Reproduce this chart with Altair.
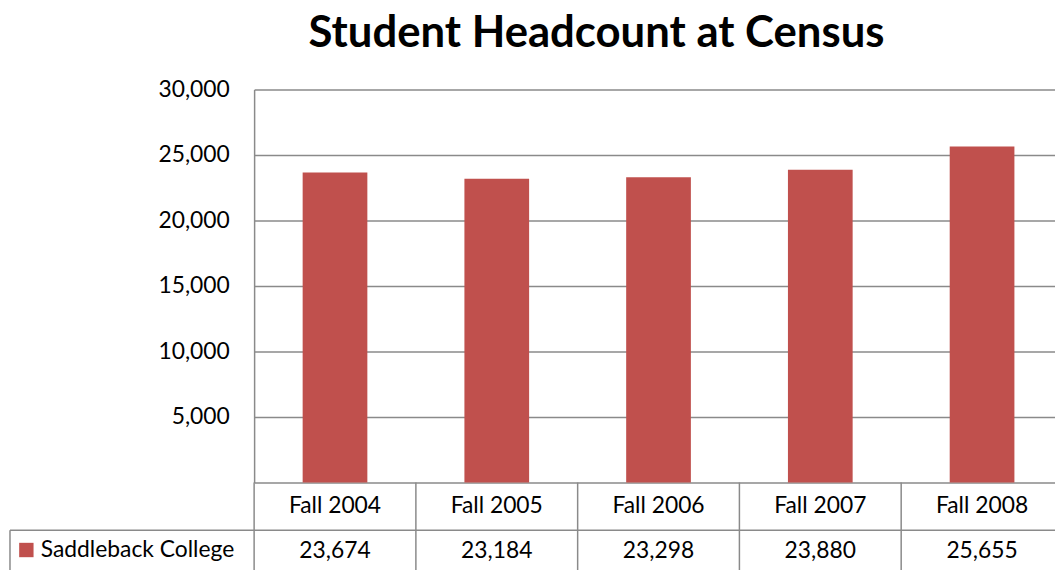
import altair as alt
import pandas as pd

# ---- data ----
categories = ["Fall 2004", "Fall 2005", "Fall 2006", "Fall 2007", "Fall 2008"]
headcount = [23674, 23184, 23298, 23880, 25655]
series_name = "Saddleback College"
y_ticks = [0, 5000, 10000, 15000, 20000, 25000, 30000]
title_text = "Student Headcount at Census"

df = pd.DataFrame({"term": categories, "headcount": headcount})
df["label"] = [f"{v:,}" for v in headcount]

FONT = "Lato"
GRID = "#8a8a8a"
BAR = "#C0504D"
VIEW_W = 807
FULL_W = 815
H = 396
FS = 23

xs = alt.Scale(domain=categories, range=[0, FULL_W], paddingInner=0.6, paddingOuter=0.3)
rs = alt.Scale(domain=categories, range=[0, FULL_W], paddingInner=0, paddingOuter=0)

bars = alt.Chart(df).mark_bar(color=BAR).encode(
    x=alt.X("term:N", scale=xs, axis=None, sort=categories),
    y=alt.Y(
        "headcount:Q",
        scale=alt.Scale(domain=[0, 30000], nice=False),
        axis=alt.Axis(
            values=y_ticks,
            labelExpr="datum.value == 0 ? '' : format(datum.value, ',')",
            grid=True, gridColor=GRID, gridWidth=1.5,
            domain=True, domainColor=GRID, domainWidth=1.5,
            ticks=False, labelPadding=25, labelFontSize=FS, labelFont=FONT,
            labelColor="black", title=None,
        ),
    ),
)

header = alt.Chart(df).mark_text(font=FONT, fontSize=FS, baseline="middle", color="black").encode(
    x=alt.X("term:N", scale=xs, axis=None, sort=categories),
    y=alt.value(420),
    text="term:N",
)

vals = alt.Chart(df).mark_text(font=FONT, fontSize=FS, baseline="middle", color="black").encode(
    x=alt.X("term:N", scale=xs, axis=None, sort=categories),
    y=alt.value(465),
    text="label:N",
)

vrules = alt.Chart(df).mark_rule(color=GRID, strokeWidth=1.5).encode(
    x=alt.X("term:N", scale=rs, axis=None, bandPosition=0, sort=categories),
    y=alt.value(H),
    y2=alt.value(500),
)

one = pd.DataFrame({"s": [series_name], "t": [title_text]})

hrule = alt.Chart(one).mark_rule(color=GRID, strokeWidth=1.5).encode(
    x=alt.value(-246), x2=alt.value(FULL_W), y=alt.value(444)
)
lrule = alt.Chart(one).mark_rule(color=GRID, strokeWidth=1.5).encode(
    x=alt.value(-246), y=alt.value(444), y2=alt.value(500)
)
key = alt.Chart(one).mark_square(color=BAR, size=210, opacity=1).encode(
    x=alt.value(-229.5), y=alt.value(464)
)
keytext = alt.Chart(one).mark_text(font=FONT, fontSize=FS, align="left", baseline="middle", color="black").encode(
    x=alt.value(-215), y=alt.value(464), text="s:N"
)
title = alt.Chart(one).mark_text(font=FONT, fontSize=44, fontWeight="bold", align="center",
                                 baseline="alphabetic", color="black").encode(
    x=alt.value(345), y=alt.value(-43), text="t:N"
)

chart = (
    alt.layer(bars, header, vals, vrules, hrule, lrule, key, keytext, title)
    .resolve_scale(x="independent")
    .properties(
        width=VIEW_W, height=H,
        autosize=alt.AutoSizeParams(type="none"),
        padding={"left": 248, "top": 80, "right": 0, "bottom": 86},
        background="white",
    )
    .configure_view(stroke=None)
    .configure_scale(bandPaddingInner=0.6)
)

chart.save("out.html", embed_options={"renderer": "svg", "actions": False})
